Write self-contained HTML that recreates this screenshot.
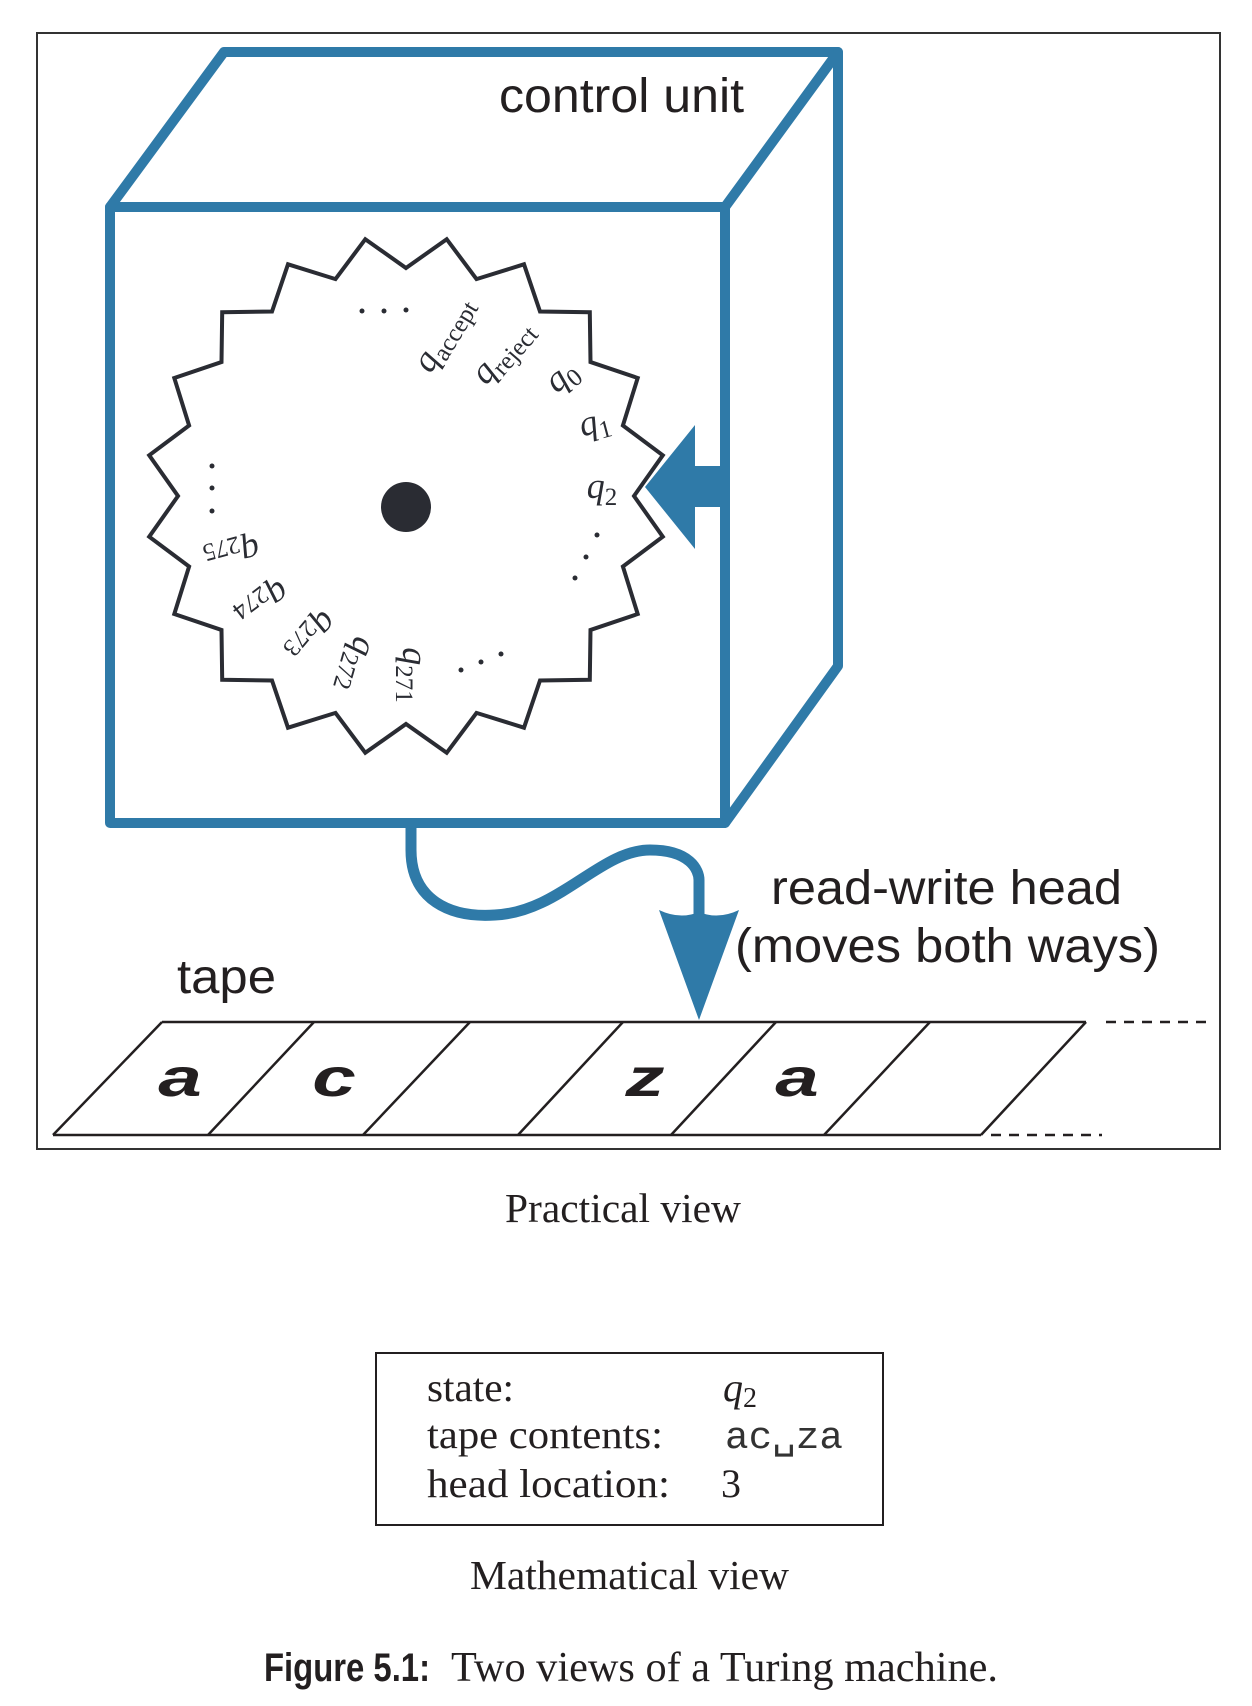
<!DOCTYPE html>
<html><head><meta charset="utf-8"><style>
html,body{margin:0;padding:0;background:#fff;}
svg{display:block;}
.q{font-family:"Liberation Serif",serif;font-style:italic;fill:#2a2c33;}
.sb{font-style:normal;}
</style></head><body>
<svg width="1252" height="1706" viewBox="0 0 1252 1706" xmlns="http://www.w3.org/2000/svg">
<rect x="37" y="33" width="1183" height="1116" fill="none" stroke="#333" stroke-width="2"/>
<g fill="none" stroke="#2f7aa8" stroke-width="10" stroke-linejoin="round" stroke-linecap="round">
<rect x="110" y="207" width="615" height="616"/>
<polyline points="110,207 224,52 838,52 725,207"/>
<polyline points="838,52 838,666 725,823"/>
</g>
<text x="499" y="112" font-family="Liberation Sans, sans-serif" font-size="48" fill="#231f20" textLength="245" lengthAdjust="spacingAndGlyphs">control unit</text>
<polygon fill="#fff" stroke="#2a2c33" stroke-width="4" stroke-linejoin="miter" points="406,268 446.7,239.2 476.5,279.1 524,264.3 540,311.5 589.8,312.2 590.5,362 637.7,378 622.9,425.5 662.8,455.3 634,496 662.8,536.7 622.9,566.5 637.7,614 590.5,630 589.8,679.8 540,680.5 524,727.7 476.5,712.9 446.7,752.8 406,724 365.3,752.8 335.5,712.9 288,727.7 272,680.5 222.2,679.8 221.5,630 174.3,614 189.1,566.5 149.2,536.7 178,496 149.2,455.3 189.1,425.5 174.3,378 221.5,362 222.2,312.2 272,311.5 288,264.3 335.5,279.1 365.3,239.2"/>
<circle cx="406" cy="507" r="25" fill="#2a2c33"/>
<g fill="#2a2c33">
<circle cx="362" cy="311" r="2.5"/><circle cx="384" cy="311" r="2.5"/><circle cx="406" cy="310" r="2.5"/>
<circle cx="597" cy="535" r="2.5"/><circle cx="586" cy="557" r="2.5"/><circle cx="575" cy="578" r="2.5"/>
<circle cx="461" cy="670" r="2.5"/><circle cx="481" cy="662" r="2.5"/><circle cx="501" cy="654" r="2.5"/>
<circle cx="212" cy="466" r="2.5"/><circle cx="212" cy="488" r="2.5"/><circle cx="212" cy="511" r="2.5"/>
</g>
<g class="q" font-size="36" text-anchor="middle">
<text transform="translate(445,335) rotate(-59)" dy="8">q<tspan class="sb" font-size="25" dy="7">accept</tspan></text>
<text transform="translate(504,353) rotate(-49)" dy="8">q<tspan class="sb" font-size="25" dy="7">reject</tspan></text>
<text transform="translate(563,378) rotate(-40)" dy="8">q<tspan class="sb" font-size="25" dy="7">0</tspan></text>
<text transform="translate(595,425) rotate(-15)" dy="8">q<tspan class="sb" font-size="25" dy="7">1</tspan></text>
<text transform="translate(602,490)" dy="8">q<tspan class="sb" font-size="25" dy="7">2</tspan></text>
<text transform="translate(411,675) rotate(90)" dy="8">q<tspan class="sb" font-size="25" dy="7">271</tspan></text>
<text transform="translate(355,664) rotate(106)" dy="8">q<tspan class="sb" font-size="25" dy="7">272</tspan></text>
<text transform="translate(311,636) rotate(130)" dy="8">q<tspan class="sb" font-size="25" dy="7">273</tspan></text>
<text transform="translate(262,603) rotate(143)" dy="8">q<tspan class="sb" font-size="25" dy="7">274</tspan></text>
<text transform="translate(232,553) rotate(165)" dy="8">q<tspan class="sb" font-size="25" dy="7">275</tspan></text>
</g>
<polygon fill="#2f7aa8" points="645,487 695,425 695,466 725,466 725,507 695,507 695,549"/>
<path d="M411,823 L411,850 C411,900 450,918 495,915 C560,912 600,850 650,850 C690,850 699,870 699,880 L699,918" fill="none" stroke="#2f7aa8" stroke-width="11"/>
<path d="M659,910 Q680,920 699,912 Q718,920 739,910 L699,1020 Z" fill="#2f7aa8"/>
<text x="771" y="904" font-family="Liberation Sans, sans-serif" font-size="48" fill="#231f20" textLength="351" lengthAdjust="spacingAndGlyphs">read-write head</text>
<text x="735" y="962" font-family="Liberation Sans, sans-serif" font-size="48" fill="#231f20" textLength="425" lengthAdjust="spacingAndGlyphs">(moves both ways)</text>
<text x="177" y="993" font-family="Liberation Sans, sans-serif" font-size="48" fill="#231f20" textLength="99" lengthAdjust="spacingAndGlyphs">tape</text>
<g stroke="#231f20" stroke-width="2.5" fill="none">
<line x1="162" y1="1022" x2="1086" y2="1022"/>
<line x1="53" y1="1135" x2="981" y2="1135"/>
<line x1="162" y1="1022" x2="53" y2="1135"/>
<line x1="314" y1="1022" x2="208" y2="1135"/>
<line x1="470" y1="1022" x2="363" y2="1135"/>
<line x1="623" y1="1022" x2="518" y2="1135"/>
<line x1="776" y1="1022" x2="671" y2="1135"/>
<line x1="930" y1="1022" x2="824" y2="1135"/>
<line x1="1086" y1="1022" x2="981" y2="1135"/>
<line x1="1106" y1="1022" x2="1210" y2="1022" stroke-dasharray="10,8"/>
<line x1="991" y1="1135" x2="1102" y2="1135" stroke-dasharray="10,8"/>
</g>
<g font-family="Liberation Sans, sans-serif" font-weight="bold" font-style="italic" font-size="54" fill="#231f20" text-anchor="middle">
<text transform="translate(180,1096) scale(1.45,1)">a</text>
<text transform="translate(334,1096) scale(1.45,1)">c</text>
<text transform="translate(645,1096) scale(1.45,1)">z</text>
<text transform="translate(797,1096) scale(1.45,1)">a</text>
</g>
<text x="505" y="1222" font-family="Liberation Serif, serif" font-size="41" fill="#231f20" textLength="236" lengthAdjust="spacingAndGlyphs">Practical view</text>
<rect x="376" y="1353" width="507" height="172" fill="none" stroke="#231f20" stroke-width="2"/>
<g font-family="Liberation Serif, serif" font-size="40" fill="#231f20">
<text x="427" y="1401" textLength="87" lengthAdjust="spacingAndGlyphs">state:</text>
<text x="427" y="1448" textLength="236" lengthAdjust="spacingAndGlyphs">tape contents:</text>
<text x="427" y="1497" textLength="243" lengthAdjust="spacingAndGlyphs">head location:</text>
<text x="723" y="1401" font-style="italic">q<tspan font-style="normal" font-size="28" dy="6">2</tspan></text>
<text x="721" y="1497">3</text>
</g>
<text x="725" y="1448" font-family="Liberation Mono, DejaVu Sans Mono, monospace" font-size="38" fill="#333" textLength="118" lengthAdjust="spacingAndGlyphs">ac␣za</text>
<text x="470" y="1589" font-family="Liberation Serif, serif" font-size="41" fill="#231f20" textLength="319" lengthAdjust="spacingAndGlyphs">Mathematical view</text>
<text x="264" y="1681" font-family="Liberation Sans, sans-serif" font-weight="bold" font-size="40" fill="#231f20" textLength="166" lengthAdjust="spacingAndGlyphs">Figure 5.1:</text>
<text x="451" y="1681" font-family="Liberation Serif, serif" font-size="42" fill="#231f20" textLength="547" lengthAdjust="spacingAndGlyphs">Two views of a Turing machine.</text>
</svg>
</body></html>
